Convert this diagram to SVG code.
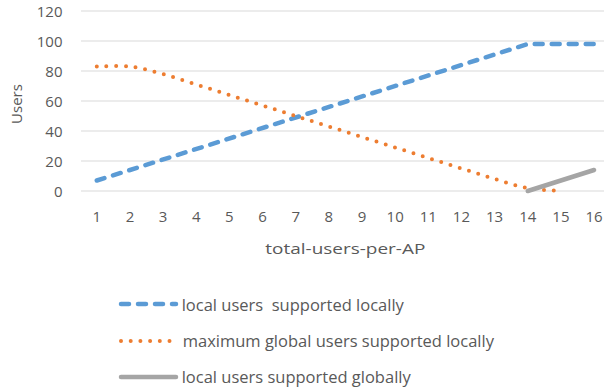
<svg xmlns="http://www.w3.org/2000/svg" width="605" height="389" viewBox="0 0 605 389">
<style>
text{font-family:"Open Sans","Liberation Sans",sans-serif;fill:#595959;font-size:15px}
.grid line{stroke:#D9D9D9;stroke-width:1}
.ylab{text-anchor:end}
.xlab{text-anchor:middle}
.leg{white-space:pre;font-size:16.5px}
.blue{fill:none;stroke:#5B9BD5;stroke-width:4.5;stroke-linecap:round;stroke-dasharray:8 9}
.orange{fill:none;stroke:#ED7D31;stroke-width:4;stroke-linecap:round;stroke-dasharray:0 9.7}
.gray{fill:none;stroke:#A5A5A5;stroke-width:4.5;stroke-linecap:round}
</style>
<rect width="605" height="389" fill="#FFFFFF"/>
<g id="grid" class="grid">
<line x1="81" y1="11" x2="604" y2="11"/>
<line x1="81" y1="41" x2="604" y2="41"/>
<line x1="81" y1="71" x2="604" y2="71"/>
<line x1="81" y1="101" x2="604" y2="101"/>
<line x1="81" y1="131" x2="604" y2="131"/>
<line x1="81" y1="161" x2="604" y2="161"/>
<line x1="81" y1="191" x2="604" y2="191"/>
</g>
<g id="y-axis">
<text class="ylab" x="62.5" y="17">120</text>
<text class="ylab" x="62.5" y="47">100</text>
<text class="ylab" x="62.5" y="77">80</text>
<text class="ylab" x="62.5" y="107">60</text>
<text class="ylab" x="62.5" y="137">40</text>
<text class="ylab" x="62.5" y="167">20</text>
<text class="ylab" x="62.5" y="197">0</text>
<text transform="translate(22,104) rotate(-90)" text-anchor="middle" font-size="17">Users</text>
</g>
<g id="x-axis">
<text class="xlab" x="96.8" y="222.3">1</text>
<text class="xlab" x="129.95" y="222.3">2</text>
<text class="xlab" x="163.1" y="222.3">3</text>
<text class="xlab" x="196.25" y="222.3">4</text>
<text class="xlab" x="229.4" y="222.3">5</text>
<text class="xlab" x="262.55" y="222.3">6</text>
<text class="xlab" x="295.7" y="222.3">7</text>
<text class="xlab" x="328.85" y="222.3">8</text>
<text class="xlab" x="362" y="222.3">9</text>
<text class="xlab" x="395.15" y="222.3">10</text>
<text class="xlab" x="428.3" y="222.3">11</text>
<text class="xlab" x="461.45" y="222.3">12</text>
<text class="xlab" x="494.6" y="222.3">13</text>
<text class="xlab" x="527.75" y="222.3">14</text>
<text class="xlab" x="560.9" y="222.3">15</text>
<text class="xlab" x="594.05" y="222.3">16</text>
<text x="265.3" y="253.7" font-size="17" textLength="160" lengthAdjust="spacingAndGlyphs">total-users-per-AP</text>
</g>
<g id="series">
<path id="s-local-local" class="blue" d="M96.8,180.5 L527.75,44 L594.05,44"/>
<path id="s-global-local" class="orange" d="M96.8,66.5 C102.33,66.5 118.9,65.25 129.95,66.5 C141,67.75 152.05,71 163.1,74 C174.15,77 185.2,81 196.25,84.5 L494.6,179 C505.65,182.25 516.7,186 527.75,188 C538.8,190 555.38,190.5 560.9,191"/>
<path id="s-local-global" class="gray" d="M527.75,191 L594.05,170"/>
</g>
<g id="legend">
<line class="blue" x1="121" y1="304" x2="176" y2="304"/>
<text class="leg" x="181.7" y="311">local users  supported locally</text>
<line class="orange" x1="121" y1="341" x2="173" y2="341"/>
<text class="leg" x="182.7" y="347">maximum global users supported locally</text>
<line class="gray" x1="121" y1="377" x2="176" y2="377"/>
<text class="leg" x="181.7" y="383">local users supported globally</text>
</g>
</svg>
